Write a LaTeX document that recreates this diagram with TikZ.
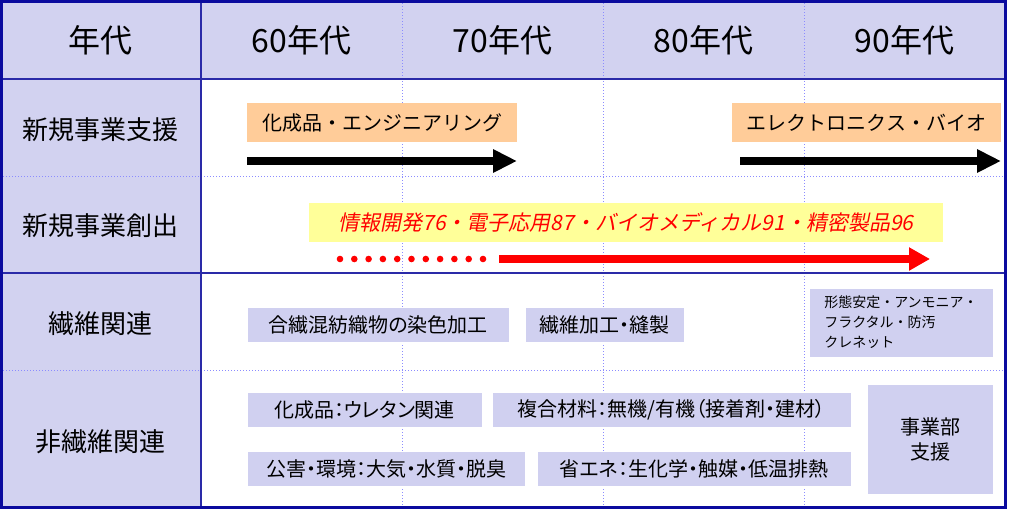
\documentclass[tikz,border=0pt]{standalone}
\usepackage{fontspec}
\setmainfont{Noto Sans CJK JP}[RawFeature=+palt]
\newfontfamily\fulljp{Noto Sans CJK JP}
\newfontfamily\slantjp{Noto Sans CJK JP}[FakeSlant=0.2]
\usetikzlibrary{arrows.meta}
\definecolor{headfill}{HTML}{D2D2F0}
\definecolor{itemfill}{HTML}{D0D0F0}
\definecolor{rulecol}{HTML}{2A2AA8}
\definecolor{framecol}{HTML}{0A0A9E}
\definecolor{gridcol}{HTML}{8C8CFF}
\definecolor{orangefill}{HTML}{FFCC99}
\definecolor{yellowfill}{HTML}{FFFF99}
\definecolor{redarrow}{HTML}{FF0000}
\tikzstyle{headtext}=[font=\fontsize{32}{32}\selectfont]
\tikzstyle{rowtext}=[font=\fontsize{26}{26}\selectfont]
\tikzstyle{gridline}=[gridcol,dotted,line width=1pt]
\tikzstyle{rule}=[rulecol,line width=2pt]
\tikzstyle{frame}=[framecol,line width=3pt]
\tikzstyle{item}=[fill=itemfill,draw=white,line width=0.8pt,inner sep=0pt,font=\fontsize{20}{20}\selectfont]
\tikzstyle{smallitem}=[item,align=left,font=\fulljp\fontsize{14}{20}\selectfont]
\tikzstyle{bigitem}=[item,align=center,font=\fontsize{20}{25}\selectfont]
\tikzstyle{period}=[fill=orangefill,inner sep=0pt,font=\fulljp\fontsize{20}{20}\selectfont]
\tikzstyle{newbiz}=[fill=yellowfill,inner sep=0pt,text=redarrow,font=\slantjp\fontsize{21}{21}\selectfont]
\tikzstyle{trend}=[line width=8pt,-{Triangle[length=24pt,width=22pt]}]
\tikzstyle{redtrend}=[redarrow,line width=8pt,-{Triangle[length=21pt,width=22pt]}]
% Syntax: [style] {name} {x1}{y1}{x2}{y2} {text}
\newcommand{\putItem}[7][item]{
\pgfmathsetmacro{\bw}{#5-#3}
\pgfmathsetmacro{\bh}{#6-#4}
\node[#1,minimum width=\bw pt,minimum height=\bh pt] (#2) at ({(#3+#5)/2},{(#4+#6)/2}) {#7};
}
\begin{document}
\begin{tikzpicture}[x=1pt,y=-1pt]
  \useasboundingbox (0,0) rectangle (1024,509);
  \fill[headfill] (0,0) rectangle (1005,79);
  \fill[headfill] (0,79) rectangle (201,508);
  \foreach \x in {402,603,804}
    \draw[gridline] (\x,0) -- (\x,508);
  \foreach \y in {176,370}
    \draw[gridline] (0,\y) -- (1005,\y);
  \foreach \y in {79,273}
    \draw[rule] (0,\y) -- (1005,\y);
  \draw[rule] (201,0) -- (201,508);
  \draw[frame] (1.5,1.5) rectangle (1005,507.5);
  % header
  \node[headtext] (era) at (100.5,40) {年代};
  \foreach \d [count=\i] in {60,70,80,90}
    \node[headtext] (dec\d) at (100.5+201*\i,40) {\d 年代};
  % row labels
  \node[rowtext] (support) at (100.5,130) {新規事業支援};
  \node[rowtext] (create) at (100.5,226) {新規事業創出};
  \node[rowtext] (fiber) at (100.5,324) {繊維関連};
  \node[rowtext] (nonfiber) at (100.5,442) {非繊維関連};
  % new business support
  \putItem[period]{chem}{247}{103}{517}{142}{化成品・エンジニアリング}
  \putItem[period]{elec}{732}{103}{1001}{142}{エレクトロニクス・バイオ}
  \coordinate (chem start) at (247,161);
  \coordinate (chem end) at (517,161);
  \coordinate (elec start) at (740,161);
  \coordinate (elec end) at (1001,161);
  \draw[trend] (chem start) -- (chem end);
  \draw[trend] (elec start) -- (elec end);
  % new business creation
  \putItem[newbiz]{info}{309}{203}{943}{242}{情報開発76・電子応用87・バイオメディカル91・精密製品96}
  \foreach \i in {0,...,10}
    \fill[redarrow] (340+\i*14.3,259) circle (3.3pt);
  \coordinate (info start) at (499,259);
  \coordinate (info end) at (930,259);
  \draw[redtrend] (info start) -- (info end);
  % fiber
  \putItem{dye}{247}{307}{509}{342}{合繊混紡織物の染色加工}
  \putItem{sew}{525}{307}{684}{342}{繊維加工・縫製}
  \putItem[smallitem]{form}{809}{288}{993}{357}{形態安定・アンモニア・\\フラクタル・防汚\\クレネット}
  % non-fiber
  \putItem{urethane}{247}{392}{482}{427}{化成品：ウレタン関連}
  \putItem{composite}{492}{392}{851}{427}{複合材料：無機/有機（接着剤・建材）}
  \putItem{env}{247}{451}{525}{486}{公害・環境：大気・水質・脱臭}
  \putItem{energy}{537}{451}{851}{486}{省エネ：生化学・触媒・低温排熱}
  \putItem[bigitem]{division}{867}{384}{993}{494}{事業部\\支援}
\end{tikzpicture}
\end{document}
